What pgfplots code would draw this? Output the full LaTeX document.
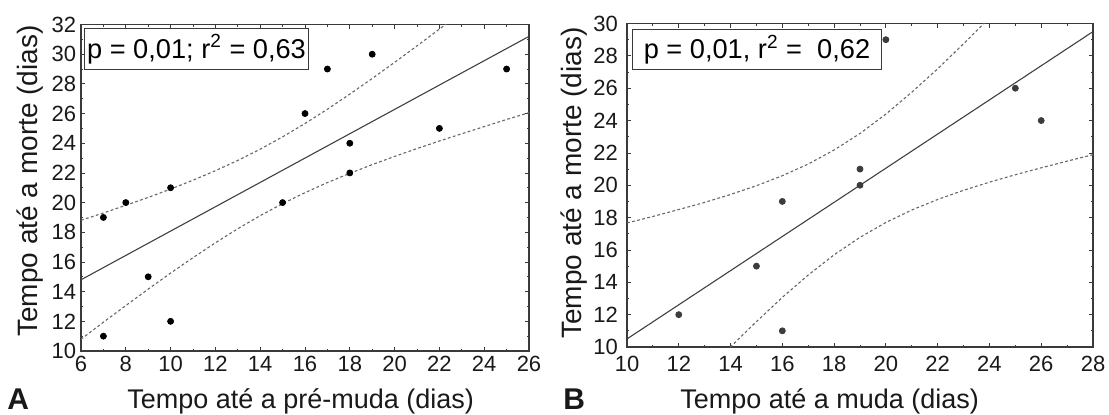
\documentclass[border=0pt]{standalone}
\usepackage{fontspec}
\setmainfont{Liberation Sans}
\usepackage{pgfplots}
\pgfplotsset{compat=1.18}
\definecolor{axgray}{HTML}{3A3A3A}
\definecolor{dotgray}{HTML}{3C3C3C}

\pgfplotsset{
  panel/.style={
    scale only axis,
    anchor=south west,
    axis line style={axgray, line width=0.6pt},
    tick style={axgray, line width=0.4pt},
    tick align=inside,
    tick pos=both,
    major tick length=2.2pt,
    minor tick length=1.2pt,
    minor tick num=1,
    tick label style={font=\fontsize{11}{13}\selectfont, text=black!90},
    xticklabel style={inner sep=2.5pt},
    yticklabel style={inner sep=2.2pt},
    /pgf/number format/assume math mode=true,
  },
  fitline/.style={no marks, color=black!75, line width=0.55pt},
  band/.style={no marks, color=black!60, line width=0.55pt, dash pattern=on 1.4pt off 1.2pt},
}

\begin{document}
\begin{tikzpicture}
\path[use as bounding box] (0,0) rectangle (554.5pt,-207pt);

% ---- panel A
\begin{axis}[panel,
  at={(40.5pt,-175.5pt)}, width=224pt, height=163.25pt,
  xmin=6, xmax=26, ymin=10, ymax=32,
  xtick={6,8,...,26}, ytick={10,12,...,32},
]
\addplot[fitline] coordinates {(6,14.80) (26,31.20)};
\addplot[band] coordinates {
 (6,18.81) (7,19.30) (8,19.82) (9,20.35) (10,20.91) (11,21.51) (12,22.15)
 (13,22.84) (14,23.60) (15,24.43) (16,25.33) (17,26.29) (18,27.31) (19,28.36)
 (20,29.45) (21,30.56) (22,31.69) (23,32.84) (24,34.00)};
\addplot[band] coordinates {
 (6,10.79) (7,11.94) (8,13.06) (9,14.17) (10,15.25) (11,16.29) (12,17.29)
 (13,18.24) (14,19.12) (15,19.93) (16,20.67) (17,21.35) (18,21.97) (19,22.56)
 (20,23.11) (21,23.64) (22,24.15) (23,24.64) (24,25.12) (25,25.60) (26,26.06)};
\addplot[only marks, mark=*, mark size=1.5pt, black] coordinates {
 (7,19) (7,11) (8,20) (9,15) (10,21) (10,12) (15,20) (16,26) (17,29)
 (18,24) (18,22) (19,30) (22,25) (25,29)};
\node[draw=axgray, line width=0.5pt, fill=white, anchor=north west,
  minimum width=112pt, minimum height=20.5pt, inner sep=1pt,
  font=\fontsize{13.6}{15}\selectfont]
  at (rel axis cs:0.0067,0.989) {p = 0,01; r\textsuperscript{2} = 0,63};
\end{axis}

% ---- panel B
\begin{axis}[panel,
  at={(313.5pt,-173.5pt)}, width=233pt, height=161.75pt,
  xmin=10, xmax=28, ymin=10, ymax=30,
  xtick={10,12,...,28}, ytick={10,12,...,30},
  xticklabel style={inner sep=2.5pt, yshift=-1.8pt},
  yticklabel style={inner sep=2.2pt, xshift=-2.2pt},
]
\addplot[fitline] coordinates {(10,10.50) (28,29.50)};
\addplot[band] coordinates {
 (10,17.67) (11,18.07) (12,18.50) (13,18.94) (14,19.43) (15,19.97) (16,20.59)
 (17,21.31) (18,22.18) (19,23.20) (20,24.40) (21,25.75) (22,27.20) (23,28.75)
 (24,30.35) (25,32.00)};
\addplot[band] coordinates {
 (13,8.38) (14,10.01) (15,11.57) (16,13.07) (17,14.45) (18,15.70) (19,16.78)
 (20,17.70) (21,18.47) (22,19.12) (23,19.69) (24,20.19) (25,20.65) (26,21.08)
 (27,21.49) (28,21.89)};
\addplot[only marks, mark=*, mark size=1.5pt, dotgray] coordinates {
 (12,12) (15,15) (16,19) (16,11) (19,21) (19,20) (20,29) (25,26) (26,24)};
\node[draw=axgray, line width=0.5pt, fill=white, anchor=north west,
  minimum width=124.5pt, minimum height=20pt, inner sep=1pt,
  font=\fontsize{13.6}{15}\selectfont]
  at (rel axis cs:0.0107,0.983) {p = 0,01, r\textsuperscript{2} =\ \ 0,62};
\end{axis}

% ---- labels
\begin{scope}[every node/.style={text=black!90}]
\node[rotate=90, anchor=base, font=\fontsize{14}{16}\selectfont] at (18.5pt,-90.5pt) {Tempo até a morte (dias)};
\node[rotate=90, anchor=base, font=\fontsize{14}{16}\selectfont] at (290.75pt,-91.5pt) {Tempo até a morte (dias)};
\node[anchor=base, font=\fontsize{13.5}{15}\selectfont] at (150.3pt,-204pt) {Tempo até a pré-muda (dias)};
\node[anchor=base, font=\fontsize{13.5}{15}\selectfont] at (414.85pt,-204pt) {Tempo até a muda (dias)};
\node[anchor=base west, inner sep=0pt, font=\fontsize{15}{17}\bfseries] at (3.5pt,-204.5pt) {A};
\node[anchor=base west, inner sep=0pt, font=\fontsize{15}{17}\bfseries] at (281.5pt,-204.5pt) {B};
\end{scope}
\end{tikzpicture}
\end{document}
